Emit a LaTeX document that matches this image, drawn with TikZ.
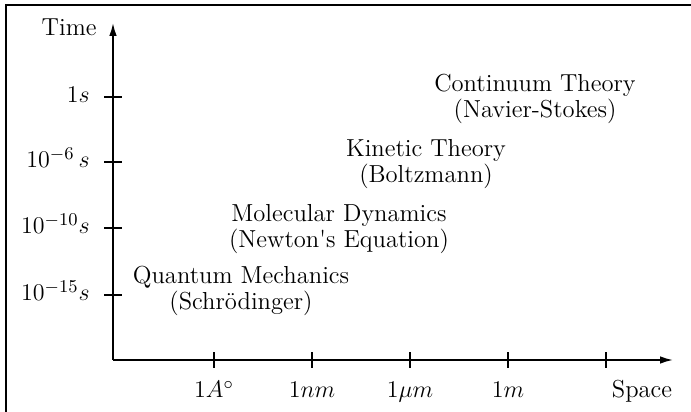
\documentclass[tikz,border=0pt]{standalone}
\usepackage{amsmath}
\usetikzlibrary{arrows.meta}

\begin{document}
\begin{tikzpicture}[x=0.5pt,y=0.5pt,>={Latex[length=6.5pt,width=3.8pt]},
  every node/.style={font=\fontsize{12.3}{12.6}\selectfont,inner sep=0pt},
  axis/.style={line width=0.85pt,->},
  tickmark/.style={line width=0.75pt},
  theory/.style={align=center}]
  \useasboundingbox (0,0) rectangle (691,412);
  % frame (cut at right and bottom)
  \draw[line width=1pt] (6,0) -- (6,407) -- (691,407);
  % axes
  \coordinate (o) at (113,52);
  \coordinate (tend) at (113,389);
  \coordinate (send) at (673,52);
  \draw[axis] (o) -- (tend);
  \draw[axis] (o) -- (send);
  \node[anchor=base east] (time) at (97,376) {Time};
  % time ticks
  \foreach \y/\lab/\nm in {315/{$1s$}/t0,250/{$10^{-6}\,s$}/t1,184/{$10^{-10}s$}/t2,117/{$10^{-15}s$}/t3}{
    \draw[tickmark] (104,\y) -- (122,\y);
    \node[anchor=base east] (\nm) at (90,\y-6) {\lab};
  }
  % space ticks
  \foreach \x/\lab/\nm in {214/{$1A^\circ$}/s0,312/{$1nm$}/s1,410/{$1\mu m$}/s2,508/{$1m$}/s3}{
    \draw[tickmark] (\x,44) -- (\x,60);
    \node[anchor=base] (\nm) at (\x,14) {\lab};
  }
  \draw[tickmark] (606,44) -- (606,60);
  \node[anchor=base] (space) at (642,14) {Space};
  % theories
  \node[theory] (qm) at (241,121) {Quantum Mechanics\\(Schr\"odinger)};
  \node[theory] (md) at (339,183) {Molecular Dynamics\\(Newton\textquotesingle s Equation)};
  \node[theory] (kt) at (426,248) {Kinetic Theory\\(Boltzmann)};
  \node[theory] (ct) at (535,313) {Continuum Theory\\(Navier-Stokes)};
\end{tikzpicture}
\end{document}
